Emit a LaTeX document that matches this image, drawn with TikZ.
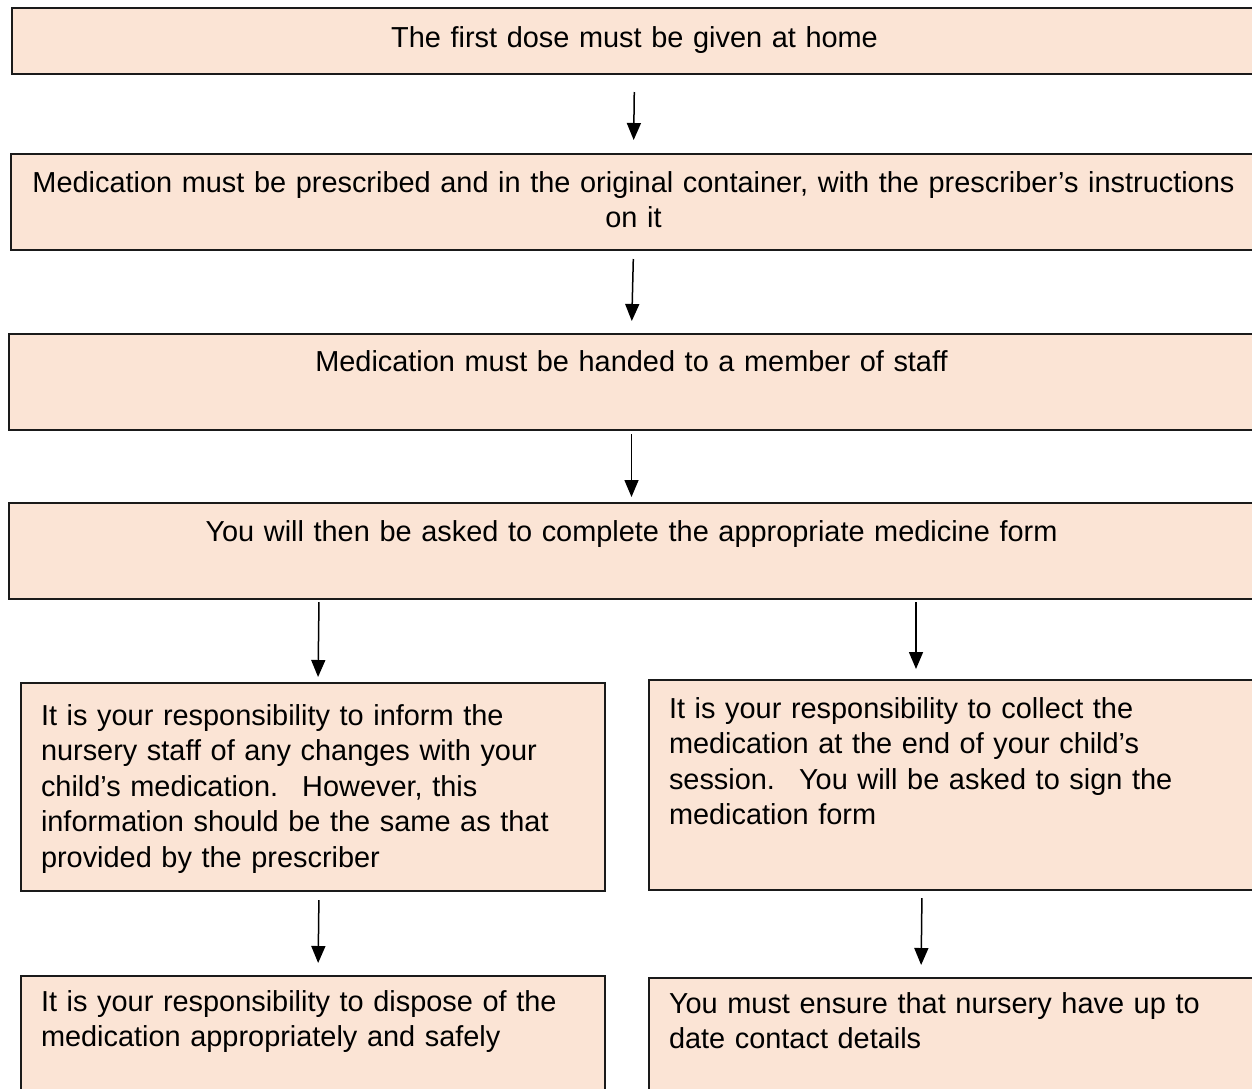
\documentclass[tikz,border=0pt]{standalone}
\usepackage{fontspec}
\setmainfont{Liberation Sans}
\usepackage{tikz}
\usetikzlibrary{calc, arrows.meta}
\definecolor{boxFill}{HTML}{FBE4D5}
\definecolor{lineColor}{HTML}{1A1A1A}

\begin{document}
\begin{tikzpicture}[x=1pt, y=-1pt,
    box/.style={draw=lineColor, line width=2pt, fill=boxFill, anchor=north west,
        inner sep=0pt, font=\fontsize{28.9}{35.5}\selectfont},
    wideBox/.style={box, text width=1245pt, align=center},
    halfBox/.style={box, inner xsep=20pt, align=left},
    flowArrow/.style={-{Triangle[width=14pt, length=17pt]}, line width=1.5pt}]
    \useasboundingbox (0,0) rectangle (1252,1088);
    \clip (0,0) rectangle (1252,1088);
    % main column
    \node[wideBox, text height=39pt, text depth=27pt] (dose) at (11,7)
        {The first dose must be given at home};
    \node[wideBox, text height=38pt, text depth=58pt] (container) at (10,153)
        {Medication must be prescribed and in the original container, with the prescriber’s instructions\\on it};
    \node[wideBox, text height=37pt, text depth=59pt] (handed) at (8,333)
        {Medication must be handed to a member of staff};
    \node[wideBox, text height=38pt, text depth=58pt] (form) at (8,502)
        {You will then be asked to complete the appropriate medicine form};
    % two branches
    \node[halfBox, text width=544pt, text height=42pt, text depth=166pt] (advise) at (20,682)
        {It is your responsibility to inform the\\
         nursery staff of any changes with your\\
         child’s medication.~ However, this\\
         information should be the same as that\\
         provided by the prescriber};
    \node[halfBox, text width=582pt, text height=38pt, text depth=172pt] (collect) at (648,679)
        {It is your responsibility to collect the\\
         medication at the end of your child’s\\
         session.~ You will be asked to sign the\\
         medication form};
    \node[halfBox, text width=544pt, text height=35pt, text depth=150pt] (dispose) at (20,975)
        {It is your responsibility to dispose of the\\
         medication appropriately and safely};
    \node[halfBox, text width=582pt, text height=35pt, text depth=150pt] (contact) at (648,977)
        {You must ensure that nursery have up to\\
         date contact details};
    % arrows
    \draw[flowArrow, shorten <=17pt, shorten >=13pt] (dose.south) -- (container.north);
    \draw[flowArrow, shorten <=8pt, shorten >=12pt] (container.south) -- (handed.north);
    \draw[flowArrow, shorten <=3pt, shorten >=5pt] (handed.south) -- (form.north);
    \draw[flowArrow, shorten <=2pt, shorten >=5pt]
        ($(advise.north |- form.south)+(6,0)$) -- ($(advise.north)+(5,0)$);
    \draw[flowArrow, shorten <=2pt, shorten >=10pt]
        ($(collect.north west |- form.south)+(268,0)$) -- ($(collect.north west)+(268,0)$);
    \draw[flowArrow, shorten <=8pt, shorten >=12pt]
        ($(advise.south)+(6,0)$) -- ($(dispose.north)+(5,0)$);
    \draw[flowArrow, shorten <=7pt, shorten >=12pt]
        ($(collect.south west)+(274,0)$) -- ($(contact.north west)+(273,0)$);
\end{tikzpicture}
\end{document}
